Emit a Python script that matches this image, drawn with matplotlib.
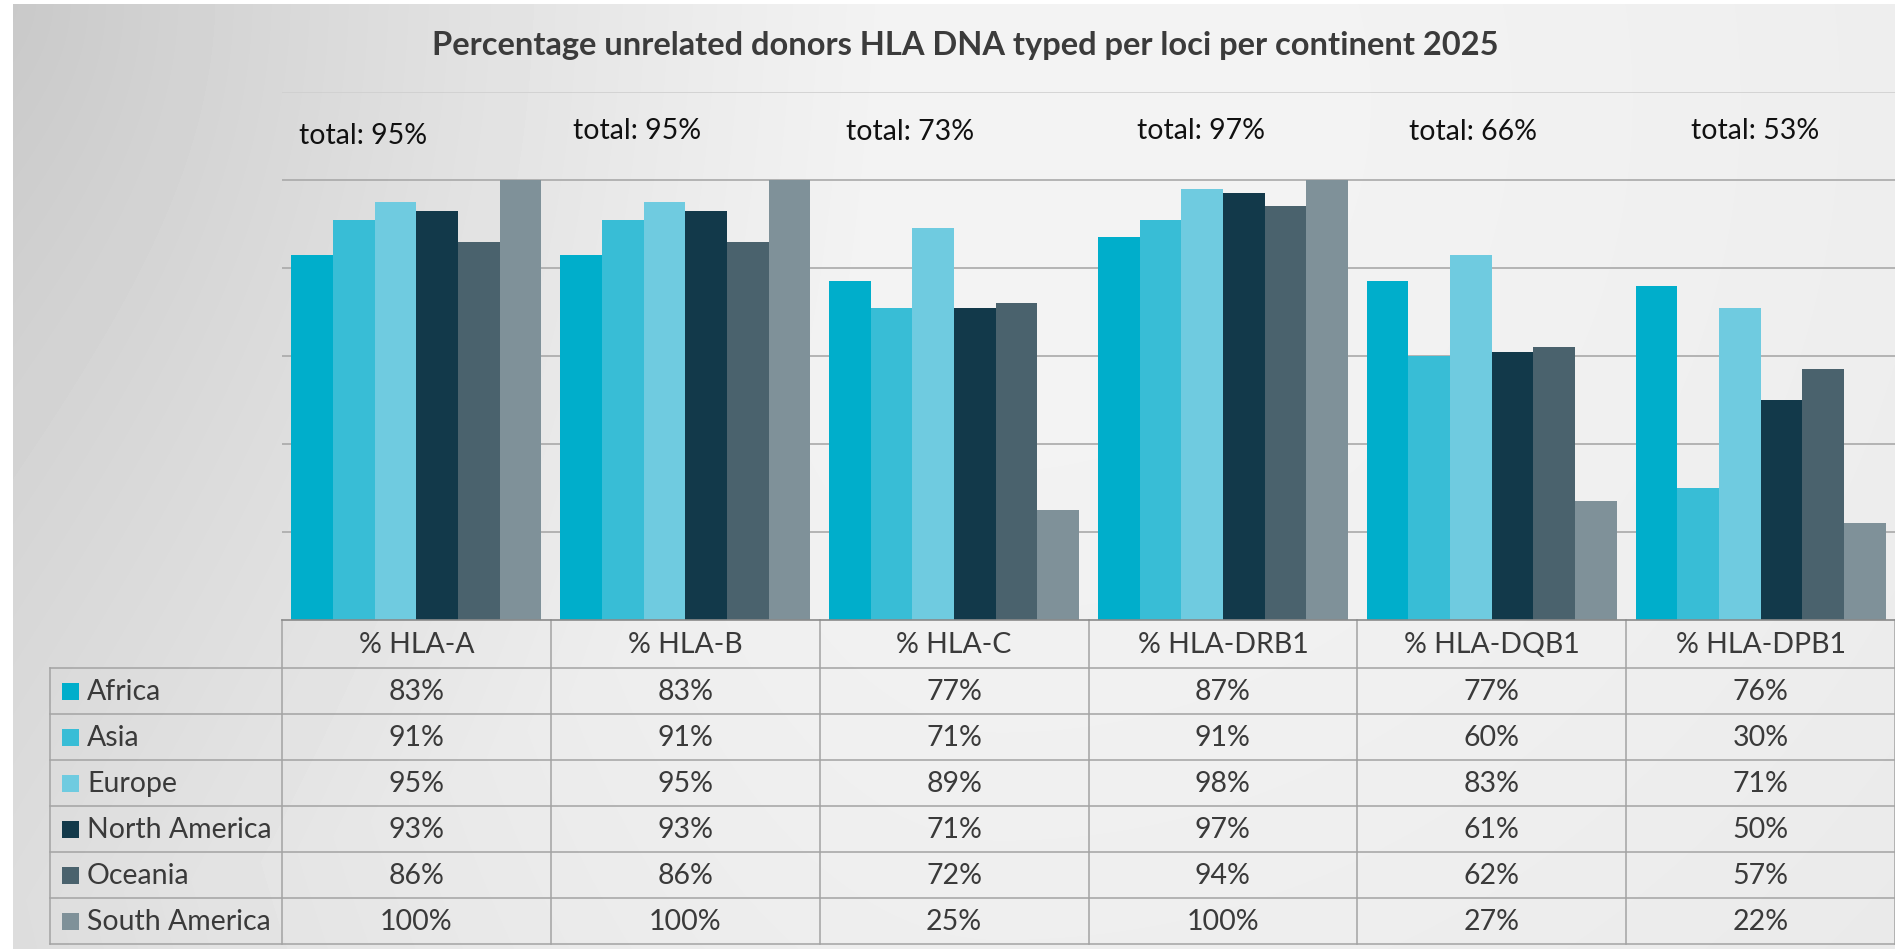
import numpy as np
import matplotlib
matplotlib.use("Agg")
import matplotlib.pyplot as plt

plt.rcParams['font.family'] = ['Lato', 'DejaVu Sans']

loci = ['% HLA-A', '% HLA-B', '% HLA-C', '% HLA-DRB1', '% HLA-DQB1', '% HLA-DPB1']
continents = ['Africa', 'Asia', 'Europe', 'North America', 'Oceania', 'South America']
africa = [83, 83, 77, 87, 77, 76]
asia = [91, 91, 71, 91, 60, 30]
europe = [95, 95, 89, 98, 83, 71]
north_america = [93, 93, 71, 97, 61, 50]
oceania = [86, 86, 72, 94, 62, 57]
south_america = [100, 100, 25, 100, 27, 22]
totals = [95, 95, 73, 97, 66, 53]

series = [africa, asia, europe, north_america, oceania, south_america]
colors = ['#00aecb', '#38bdd6', '#6fcbe0', '#12394a', '#4a626d', '#7f9199']

W, H = 1895, 949
fig = plt.figure(figsize=(W / 100, H / 100), dpi=100)

# background: soft grey gradient, lightest near the top centre, darkest top-left
bg = fig.add_axes([0, 0, 1, 1], zorder=0)
bg.set_xlim(0, W)
bg.set_ylim(H, 0)
bg.axis('off')
xx, yy = np.meshgrid(np.arange(W), np.arange(H))
cx, cy = 1000, 100
rx = np.where(xx < cx, 1150, 2200)
radial = np.clip(np.sqrt(((xx - cx) / rx) ** 2 + ((yy - cy) / 2200) ** 2), 0, 1) ** 1.6
corner = np.clip(1 - np.sqrt((xx / 900) ** 2 + (yy / 900) ** 2), 0, 1)
shade = 0.955 - 0.10 * radial - 0.09 * corner
shade[:, :13] = 1.0
shade[:4, :] = 1.0
bg.imshow(shade, cmap='gray', vmin=0, vmax=1, extent=[0, W, H, 0], aspect='auto',
          interpolation='bilinear')

# bar chart
left, base, top = 282, 620, 92
ax = fig.add_axes([left / W, (H - base) / H, (W - left) / W, (base - top) / H], zorder=1)
ax.patch.set_alpha(0)
x = np.arange(len(loci))
bw = 0.155
for j, (vals, col) in enumerate(zip(series, colors)):
    ax.bar(x + (j - 2.5) * bw, vals, width=bw, color=col, zorder=2, linewidth=0)
ax.set_xlim(-0.5, len(loci) - 0.5)
ax.set_ylim(0, 120)
for g in range(20, 101, 20):
    ax.axhline(g, color='#a9a9a9', linewidth=1.2, zorder=0)
ax.axhline(120, color='#cfcfcf', linewidth=1.2, zorder=0)
ax.set_yticks([])
ax.set_xticks([])
for s in ['left', 'right', 'top']:
    ax.spines[s].set_visible(False)
ax.spines['bottom'].set_color('#8a8a8a')
ax.spines['bottom'].set_linewidth(1.2)

# "total" labels above each group
label_dx = [-0.2, -0.18, -0.165, -0.08, -0.07, -0.02]
label_y = [110, 111.2, 110.8, 111.2, 110.8, 111.2]
for i, t in enumerate(totals):
    ax.text(i + label_dx[i], label_y[i], f'total: {t}%', ha='center', va='center',
            fontsize=20.5, color='#111111', zorder=3)

fig.text(965 / W, 1 - 46 / H, 'Percentage unrelated donors HLA DNA typed per loci per continent 2025',
         ha='center', va='center', fontsize=23.5, fontweight='bold', color='#3b3b3b')

# data table below the chart
tab_left = 50
cell_w = (W - left) / len(loci)
row_h = 46
head_bottom = 668
table_bottom = head_bottom + len(continents) * row_h
line_kw = dict(color='#a3a3a3', linewidth=1.1)
for r in range(len(continents) + 1):
    yline = head_bottom + r * row_h
    bg.plot([tab_left, W], [yline, yline], **line_kw)
bg.plot([tab_left, tab_left], [head_bottom, table_bottom], **line_kw)
for k in range(len(loci) + 1):
    xline = left + k * cell_w
    bg.plot([xline, xline], [base, table_bottom], **line_kw)

for i, name in enumerate(loci):
    bg.text(left + (i + 0.5) * cell_w, (base + head_bottom) / 2 + 1, name, ha='center',
            va='center', fontsize=20.5, color='#3a3a3a')

for r, (name, vals, col) in enumerate(zip(continents, series, colors)):
    yc = head_bottom + (r + 0.5) * row_h
    bg.add_patch(plt.Rectangle((62, yc - 8.5), 17, 17, color=col, linewidth=0))
    bg.text(87, yc + 1, name, ha='left', va='center', fontsize=20.5, color='#3a3a3a')
    for i, val in enumerate(vals):
        bg.text(left + (i + 0.5) * cell_w, yc + 1, f'{val}%', ha='center', va='center',
                fontsize=20.5, color='#3a3a3a')

fig.savefig('out.png', dpi=100)
